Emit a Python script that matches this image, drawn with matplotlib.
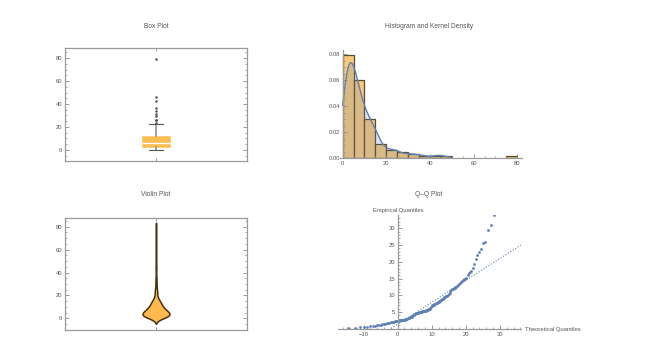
import numpy as np
import matplotlib
matplotlib.use('Agg')
import matplotlib.pyplot as plt
from matplotlib.ticker import MultipleLocator, FormatStrFormatter
from statistics import NormalDist

# ---------------- data ----------------
values = [
    0.0, 0.1, 0.2, 0.4, 0.5, 0.6, 0.7, 0.8, 0.9, 1.0,
    1.1, 1.2, 1.3, 1.4, 1.5, 1.6, 1.7, 1.8, 1.9, 2.0,
    2.0, 2.1, 2.2, 2.2, 2.3, 2.4, 2.4, 2.5, 2.5, 2.6,
    2.6, 2.7, 2.7, 2.8, 2.9, 3.0, 3.1, 3.2, 3.3, 3.4,
    3.5, 3.6, 3.8, 4.0, 4.2, 4.4, 4.5, 4.6, 4.7, 4.8,
    4.8, 4.9, 4.9,
    5.0, 5.1, 5.1, 5.2, 5.2, 5.3, 5.3, 5.4, 5.4, 5.5,
    5.6, 5.7, 5.8, 5.8, 5.9, 6.2, 6.6, 6.8, 7.0, 7.1,
    7.2, 7.3, 7.4, 7.6, 7.7, 7.8, 8.0, 8.1, 8.3, 8.4,
    8.6, 8.7, 8.9, 9.0, 9.2, 9.4, 9.5, 9.7, 9.8, 9.9,
    10.1, 10.4, 10.8, 11.2, 11.5, 11.8, 12.0, 12.1, 12.2, 12.4,
    12.6, 12.9, 13.2, 13.5, 13.8, 14.1, 14.4, 14.6, 14.8, 14.9,
    15.3, 16.0, 16.6, 17.0, 17.3, 18.2, 19.5,
    20.8, 21.9, 23.0, 23.7,
    25.7, 25.9, 29.6,
    31.1, 33.9,
    36.8,
    42.5,
    45.8,
    78.8,
]
hist_bin_edges = list(range(0, 85, 5))
box_whisker_factor = 1.25
kde_curve_range = (0, 50)

titles = ["Box Plot", "Histogram and Kernel Density", "Violin Plot", "Q\u2013Q Plot"]
box_yticks = [0, 20, 40, 60, 80]
hist_xticks = [0, 20, 40, 60, 80]
hist_yticks = [0.00, 0.02, 0.04, 0.06, 0.08]
qq_xticks = [-10, 0, 10, 20, 30]
qq_yticks = [5, 10, 15, 20, 25, 30]

# ---------------- derived ----------------
data = np.array(values, dtype=float)
n = len(data)
q1, q3 = np.percentile(data, [25, 75])
bw = 0.9 * min(data.std(ddof=1), (q3 - q1) / 1.34) * n ** -0.2


def kde(x):
    x = np.asarray(x)
    z = (x[:, None] - data[None, :]) / bw
    return np.exp(-0.5 * z ** 2).sum(axis=1) / (n * bw * np.sqrt(2 * np.pi))


plt.rcParams['font.family'] = ['Liberation Sans', 'DejaVu Sans']
TXT = '#555555'
TCK = '#8a8a8a'
ORANGE = '#FBBD4F'
BLUE = '#5E81B5'
TICK_FS = 4.2
TITLE_FS = 4.8

fig = plt.figure(figsize=(6.61, 3.43), dpi=100)


def style_frame(ax):
    for s in ax.spines.values():
        s.set_color('#9a9a9a')
        s.set_linewidth(0.9)
    ax.tick_params(axis='y', which='both', direction='in', left=True, right=True,
                   labelsize=TICK_FS, labelcolor=TXT, color=TCK, pad=2)
    ax.tick_params(axis='y', which='major', length=3, width=0.6)
    ax.tick_params(axis='y', which='minor', length=1.5, width=0.5)
    ax.tick_params(axis='x', which='both', direction='in', top=True, bottom=True,
                   labelbottom=False, length=2, width=0.6, color=TCK)
    ax.set_xticks([0])
    ax.set_xlim(-1, 1)
    ax.set_yticks(box_yticks)
    ax.yaxis.set_minor_locator(MultipleLocator(5))


# ---- Box plot ----
ax1 = fig.add_axes([0.0983, 0.5306, 0.2754, 0.3294])
ax1.boxplot(data, positions=[0], widths=0.30, whis=box_whisker_factor, patch_artist=True,
            boxprops=dict(facecolor=ORANGE, edgecolor='#FCCB72', linewidth=0.6),
            medianprops=dict(color='white', linewidth=1.0),
            whiskerprops=dict(color='#9a9a9a', linewidth=1.3),
            capprops=dict(color='#555555', linewidth=0.8),
            capwidths=0.15,
            flierprops=dict(marker='o', markersize=1.8, markerfacecolor='#505050',
                            markeredgecolor='none'))
style_frame(ax1)
ax1.set_ylim(-9.6, 88.7)

# ---- Violin plot ----
ax3 = fig.add_axes([0.0983, 0.0370, 0.2754, 0.3283])
ys = np.linspace(data.min() - 2 * bw, data.max() + 2 * bw, 800)
dens = kde(ys)
half = dens / dens.max() * 0.148
ax3.fill_betweenx(ys, -half, half, facecolor='#FFB94F', edgecolor='#4a3008', linewidth=1.1)
style_frame(ax3)
ax3.set_ylim(-10.5, 87.9)

# ---- Histogram + KDE ----
ax2 = fig.add_axes([0.5151, 0.5394, 0.2741, 0.3149])
counts, edges = np.histogram(data, bins=hist_bin_edges, density=True)
mask = counts > 0
ax2.bar(edges[:-1][mask], counts[mask], width=np.diff(edges)[mask], align='edge',
        color='#F9C978', edgecolor='#5b4a2e', linewidth=0.9)
xs = np.linspace(kde_curve_range[0], kde_curve_range[1], 800)
kd = kde(xs)
ax2.fill_between(xs, 0, kd, color=BLUE, alpha=0.2, linewidth=0)
ax2.plot(xs, kd, color=BLUE, linewidth=1.0)
ax2.set_xlim(-1, 82)
ax2.set_ylim(0, 0.0833)
for s in ['top', 'right']:
    ax2.spines[s].set_visible(False)
ax2.spines['left'].set_position(('data', 0))
for s in ['left', 'bottom']:
    ax2.spines[s].set_color('#9a9a9a')
    ax2.spines[s].set_linewidth(0.9)
ax2.set_xticks(hist_xticks)
ax2.set_yticks(hist_yticks)
ax2.yaxis.set_major_formatter(FormatStrFormatter('%.2f'))
ax2.xaxis.set_minor_locator(MultipleLocator(5))
ax2.yaxis.set_minor_locator(MultipleLocator(0.005))
ax2.tick_params(which='both', direction='in', labelsize=TICK_FS, labelcolor=TXT, color=TCK, pad=2)
ax2.tick_params(which='major', length=3, width=0.6)
ax2.tick_params(which='minor', length=1.5, width=0.5)

# ---- Q-Q plot ----
ax4 = fig.add_axes([0.5118, 0.0414, 0.2764, 0.3309])
srt = np.sort(data)
nd = NormalDist(data.mean(), data.std(ddof=1))
theo = np.array([nd.inv_cdf((i - 0.5) / n) for i in range(1, n + 1)])
ax4.plot(theo, srt, 'o', markersize=2.0, color=BLUE, markeredgecolor='none')
tq1, tq3 = nd.inv_cdf(0.25), nd.inv_cdf(0.75)
slope = (q3 - q1) / (tq3 - tq1)
xl = np.array([-17.4, 36.2])
ax4.plot(xl, q1 + slope * (xl - tq1), linestyle=(0, (1, 1.6)), color=BLUE, linewidth=0.8)
ax4.set_xlim(-17.4, 36.2)
ax4.set_ylim(0, 33.9)
for s in ['top', 'right']:
    ax4.spines[s].set_visible(False)
ax4.spines['left'].set_position(('data', 0))
for s in ['left', 'bottom']:
    ax4.spines[s].set_color('#9a9a9a')
    ax4.spines[s].set_linewidth(0.9)
ax4.set_xticks(qq_xticks)
ax4.set_yticks(qq_yticks)
ax4.xaxis.set_minor_locator(MultipleLocator(2))
ax4.yaxis.set_minor_locator(MultipleLocator(1))
ax4.tick_params(which='both', direction='in', labelsize=TICK_FS, labelcolor=TXT, color=TCK, pad=2)
ax4.tick_params(which='major', length=3, width=0.6)
ax4.tick_params(which='minor', length=1.5, width=0.5)

fig.text(0.602, 0.385, "Empirical Quantiles", ha='center', va='center', fontsize=TICK_FS, color=TXT)
fig.text(0.794, 0.0388, "Theoretical Quantiles", ha='left', va='center', fontsize=TICK_FS, color=TXT)

# ---- titles ----
fig.text(0.236, 0.924, titles[0], ha='center', va='center', fontsize=TITLE_FS, color=TXT)
fig.text(0.649, 0.924, titles[1], ha='center', va='center', fontsize=TITLE_FS, color=TXT)
fig.text(0.236, 0.432, titles[2], ha='center', va='center', fontsize=TITLE_FS, color=TXT)
fig.text(0.649, 0.432, titles[3], ha='center', va='center', fontsize=TITLE_FS, color=TXT)

fig.savefig('out.png', dpi=100, facecolor='white')
